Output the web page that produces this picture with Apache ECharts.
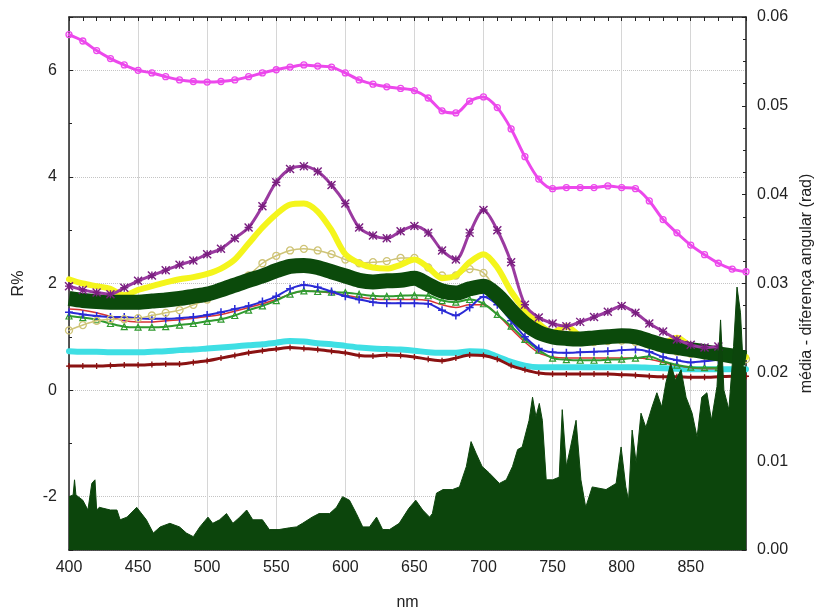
<!DOCTYPE html>
<html>
<head>
<meta charset="utf-8">
<script src="https://cdn.jsdelivr.net/npm/echarts@6/dist/echarts.min.js"></script>
<style>
  html, body { margin: 0; padding: 0; background: #ffffff; }
  #chart { width: 826px; height: 614px; }
</style>
</head>
<body>
<div id="chart"></div>
<script>
// Wavelength grid (nm) shared by the reflectance curves
const wavelengths = [400,410,420,430,440,450,460,470,480,490,500,510,520,530,540,550,560,570,580,590,
  600,610,620,630,640,650,660,670,680,690,700,710,720,730,740,750,760,770,780,790,
  800,810,820,830,840,850,860,870,880,890];

// Reflectance curves, R%
const magentaR = [6.67,6.55,6.37,6.22,6.1,6.0,5.95,5.88,5.82,5.79,5.78,5.79,5.82,5.88,5.95,6.01,6.06,6.1,6.08,6.06,
  5.95,5.82,5.74,5.69,5.66,5.62,5.48,5.24,5.2,5.42,5.5,5.3,4.9,4.38,3.96,3.78,3.8,3.8,3.8,3.83,
  3.8,3.78,3.55,3.2,2.95,2.72,2.54,2.38,2.27,2.22];
const purpleR = [1.95,1.88,1.83,1.8,1.92,2.05,2.15,2.25,2.35,2.43,2.55,2.65,2.85,3.05,3.45,3.9,4.15,4.2,4.1,3.85,
  3.5,3.05,2.9,2.85,2.98,3.08,2.95,2.62,2.45,2.95,3.38,3.0,2.4,1.6,1.36,1.25,1.2,1.28,1.37,1.47,
  1.58,1.45,1.25,1.1,0.95,0.85,0.8,0.82];
const yellowR = [2.08,2.0,1.95,1.9,1.78,1.88,1.95,2.02,2.08,2.12,2.18,2.28,2.45,2.75,3.05,3.3,3.48,3.5,3.35,3.0,
  2.55,2.38,2.3,2.28,2.35,2.45,2.3,2.1,2.15,2.4,2.55,2.3,1.85,1.5,1.25,1.08,1.2,1.02,1.0,1.0,
  1.04,1.02,0.95,0.88,0.98,0.82,0.76,0.7,0.66,0.62];
const darkGreenR = [1.72,1.68,1.66,1.65,1.65,1.65,1.67,1.69,1.72,1.76,1.8,1.88,1.97,2.06,2.14,2.24,2.32,2.34,2.3,2.22,
  2.14,2.06,2.03,2.05,2.06,2.1,1.98,1.86,1.82,1.9,1.95,1.78,1.5,1.25,1.08,1.0,0.97,0.96,0.98,1.0,
  1.02,1.0,0.92,0.84,0.8,0.76,0.72,0.68,0.64,0.6];
const khakiR = [1.12,1.22,1.3,1.33,1.33,1.35,1.4,1.45,1.5,1.6,1.7,1.82,1.98,2.15,2.38,2.52,2.62,2.65,2.62,2.55,
  2.45,2.38,2.4,2.42,2.48,2.48,2.3,2.15,2.15,2.27,2.2,1.85,1.55,1.3,1.05,0.95,0.92,0.9,0.9,0.92,
  0.93,0.9,0.85,0.78,0.72,0.68,0.65,0.62,0.6,0.58];
const blueR = [1.46,1.42,1.39,1.37,1.37,1.35,1.34,1.34,1.35,1.37,1.41,1.46,1.52,1.58,1.66,1.76,1.9,1.97,1.93,1.85,
  1.76,1.7,1.65,1.63,1.63,1.63,1.62,1.5,1.4,1.55,1.75,1.6,1.3,1.0,0.78,0.71,0.7,0.71,0.72,0.73,
  0.75,0.76,0.72,0.62,0.56,0.52,0.54,0.57];
const greenR = [1.39,1.36,1.32,1.25,1.19,1.18,1.18,1.19,1.22,1.25,1.29,1.33,1.4,1.5,1.58,1.68,1.8,1.86,1.85,1.84,
  1.83,1.8,1.77,1.76,1.77,1.78,1.77,1.68,1.65,1.7,1.62,1.42,1.2,0.95,0.75,0.6,0.57,0.56,0.56,0.57,
  0.58,0.6,0.63,0.54,0.47,0.43,0.42,0.42];
const redR = [1.52,1.5,1.45,1.38,1.3,1.28,1.28,1.3,1.32,1.35,1.38,1.42,1.48,1.55,1.62,1.7,1.8,1.86,1.85,1.82,
  1.78,1.74,1.71,1.7,1.7,1.7,1.68,1.6,1.55,1.6,1.6,1.42,1.15,0.9,0.7,0.62,0.6,0.6,0.6,0.6,
  0.6,0.6,0.58,0.52,0.46,0.42,0.4,0.4];
const cyanR = [0.73,0.72,0.72,0.71,0.71,0.71,0.72,0.73,0.75,0.76,0.78,0.8,0.82,0.84,0.86,0.89,0.92,0.91,0.88,0.86,
  0.83,0.8,0.78,0.77,0.76,0.74,0.71,0.7,0.7,0.73,0.72,0.63,0.53,0.46,0.43,0.43,0.43,0.43,0.43,0.43,
  0.43,0.43,0.42,0.41,0.4,0.39,0.39,0.39,0.39,0.39];
const maroonR = [0.45,0.45,0.45,0.46,0.47,0.47,0.48,0.49,0.49,0.52,0.55,0.6,0.65,0.7,0.74,0.77,0.8,0.78,0.76,0.73,
  0.7,0.65,0.64,0.66,0.65,0.62,0.58,0.55,0.6,0.66,0.65,0.58,0.46,0.38,0.32,0.3,0.3,0.3,0.3,0.3,
  0.29,0.28,0.26,0.25,0.25,0.24,0.24,0.25,0.26,0.26];

// Mean angular difference (rad), right axis
const angleNm = [400,403,404,405,410,413.7,416.5,418.8,420,422,430,434.7,437,442,449,456,461,466,473,480,
  485,490,494.7,500.6,504,509,514,518.6,523.6,528.6,533,540,545,552,559.7,564.6,569,576,581,588.6,
  593.6,598,603,608,612.6,617.5,622.6,627,632,639,646,651,656,661,663,666,670.7,677.5,682.6,687.6,
  691,694.6,699,704,711.5,716.5,721,724.7,728,733,735.5,738,740.4,742.6,745.4,750,754.8,757,760,763,
  767,770.5,774,778.7,788.7,796,799.6,803,805,807.6,810.5,814,817.5,822,825.5,829,832,835.5,839,843,
  846.6,851,854.6,858,861.7,865,869,871.6,874,877.6,881,883.5,886,888,890];
const angleRad = [0.006,0.0062,0.0079,0.0062,0.0056,0.0045,0.0075,0.0079,0.0045,0.0048,0.0045,0.0045,0.0034,0.0037,0.0048,0.0034,0.0019,0.0026,0.003,0.0026,
  0.0019,0.0015,0.0026,0.0037,0.003,0.0034,0.0041,0.003,0.0037,0.0045,0.0034,0.0034,0.0023,0.0023,0.0025,0.0026,0.003,0.0037,0.0041,0.0041,
  0.0048,0.006,0.0056,0.0041,0.0026,0.0026,0.0037,0.0023,0.0023,0.003,0.0047,0.0056,0.0045,0.0037,0.0041,0.0064,0.0068,0.0068,0.0071,0.0094,
  0.0122,0.0109,0.0094,0.0087,0.0075,0.0079,0.0094,0.0113,0.0116,0.0146,0.0172,0.015,0.0165,0.0146,0.0079,0.0079,0.0082,0.0158,0.0094,0.0116,
  0.0146,0.0079,0.0048,0.0071,0.0068,0.0075,0.0116,0.0071,0.0056,0.0135,0.0098,0.0154,0.0138,0.0161,0.0177,0.0161,0.0188,0.021,0.0191,0.0203,
  0.0172,0.0154,0.0127,0.0172,0.0177,0.0146,0.0184,0.0259,0.018,0.0158,0.0229,0.0296,0.0267,0.0206,0.0206];

const crossSymbol = 'path://M0,0L10,10M10,0L0,10M5,0L5,10M0,5L10,5';
const plusSymbol = 'path://M5,0L5,10M0,5L10,5';

function pairs(xs, ys) {
  return ys.map((v, i) => [xs[i], v]);
}

// Each curve gets its own z so its markers stay under the curves drawn after it
function curve(values, color, z, opts) {
  const o = opts || {};
  return {
    type: 'line',
    z: z,
    data: pairs(wavelengths, values),
    smooth: 0.3,
    symbol: o.symbol || 'none',
    symbolSize: o.symbolSize || 6,
    showSymbol: !!o.symbol,
    lineStyle: { color: color, width: o.width || 2, cap: o.cap || 'round', join: 'round' },
    itemStyle: o.hollow
      ? { color: 'rgba(0,0,0,0)', borderColor: o.markColor || color, borderWidth: o.markWidth || 1.2 }
      : { color: color },
    emphasis: { disabled: true },
    silent: true,
    animation: false
  };
}

const textStyle = { fontFamily: 'Liberation Sans, Arial, sans-serif', fontSize: 16, color: '#222' };

const option = {
  backgroundColor: '#ffffff',
  animation: false,
  grid: { left: 69, right: 80, top: 17, bottom: 64, containLabel: false, outerBoundsMode: 'none' },
  xAxis: [
    {
      type: 'value', min: 400, max: 890, interval: 50, position: 'bottom',
      name: 'nm', nameLocation: 'middle', nameGap: 45,
      nameTextStyle: Object.assign({}, textStyle),
      axisLine: { show: true, onZero: false, lineStyle: { color: '#222', width: 1.5 } },
      axisTick: { show: false },
      axisLabel: Object.assign({ margin: 10, showMaxLabel: false }, textStyle),
      splitLine: { show: true, lineStyle: { color: '#d6d6d6', width: 1 } }
    },
    {
      type: 'value', min: 400, max: 890, interval: 10, position: 'top',
      axisLine: { show: true, onZero: false, lineStyle: { color: '#222', width: 1.5 } },
      axisTick: { show: true, inside: true, length: 4, lineStyle: { color: '#222' } },
      axisLabel: { show: false },
      splitLine: { show: false }
    }
  ],
  yAxis: [
    {
      type: 'value', min: -3, max: 7, splitNumber: 5, position: 'left',
      name: 'R%', nameLocation: 'middle', nameGap: 42,
      nameTextStyle: Object.assign({}, textStyle),
      axisLine: { show: true, onZero: false, lineStyle: { color: '#222', width: 1.5 } },
      axisTick: { show: true, inside: true, length: 4, lineStyle: { color: '#222' } },
      minorTick: { show: true, splitNumber: 2, length: 3, lineStyle: { color: '#222' } },
      axisLabel: Object.assign({
        margin: 12, showMinLabel: false, showMaxLabel: false,
        formatter: v => (Math.abs(v % 2) < 1e-9 ? String(v) : '')
      }, textStyle),
      splitLine: { show: true, lineStyle: { color: '#c4c4c4', width: 1, type: 'dotted' } }
    },
    {
      type: 'value', min: 0, max: 0.06, interval: 0.01, position: 'right',
      name: 'média - diferença angular (rad)', nameLocation: 'middle', nameGap: 52, nameRotate: 90,
      nameTextStyle: Object.assign({}, textStyle),
      axisLine: { show: true, onZero: false, lineStyle: { color: '#222', width: 1.5 } },
      axisTick: { show: true, inside: true, length: 4, lineStyle: { color: '#222' } },
      minorTick: { show: true, splitNumber: 4, length: 3, lineStyle: { color: '#222' } },
      axisLabel: Object.assign({ margin: 11, formatter: v => v.toFixed(2) }, textStyle),
      splitLine: { show: false }
    }
  ],
  series: [
    curve(cyanR, '#3fdfe4', 3, { width: 6 }),
    curve(maroonR, '#8a1212', 4, { width: 3, symbol: plusSymbol, symbolSize: 6, hollow: true, markWidth: 1.3 }),
    curve(redR, '#d83434', 5, { width: 1.5 }),
    curve(greenR, '#2f9a2f', 6, { width: 2, symbol: 'triangle', symbolSize: 6, hollow: true, markWidth: 1.2 }),
    curve(blueR, '#2a2ad6', 7, { width: 2, symbol: plusSymbol, symbolSize: 8, hollow: true, markWidth: 1.5 }),
    curve(khakiR, '#cfc477', 8, { width: 1.5, symbol: 'circle', symbolSize: 7, hollow: true, markWidth: 1.3 }),
    curve(yellowR, '#f4f51c', 9, { width: 6 }),
    curve(darkGreenR, '#0b4a0b', 10, { width: 15, cap: 'butt' }),
    curve(purpleR, '#9a3aa0', 11, { width: 3, symbol: crossSymbol, symbolSize: 8, hollow: true, markColor: '#7a1f80', markWidth: 1.4 }),
    curve(magentaR, '#ec48ec', 12, { width: 3, symbol: 'circle', symbolSize: 6, hollow: true, markWidth: 1.3 }),
    {
      type: 'line',
      z: 13,
      xAxisIndex: 0,
      yAxisIndex: 1,
      data: pairs(angleNm, angleRad),
      symbol: 'none',
      showSymbol: false,
      lineStyle: { color: '#0c450c', width: 1 },
      areaStyle: { color: '#0c450c', opacity: 1 },
      emphasis: { disabled: true },
      silent: true,
      animation: false
    }
  ]
};

const chart = echarts.init(document.getElementById('chart'), null, { renderer: 'canvas' });
chart.setOption(option);
</script>
</body>
</html>
